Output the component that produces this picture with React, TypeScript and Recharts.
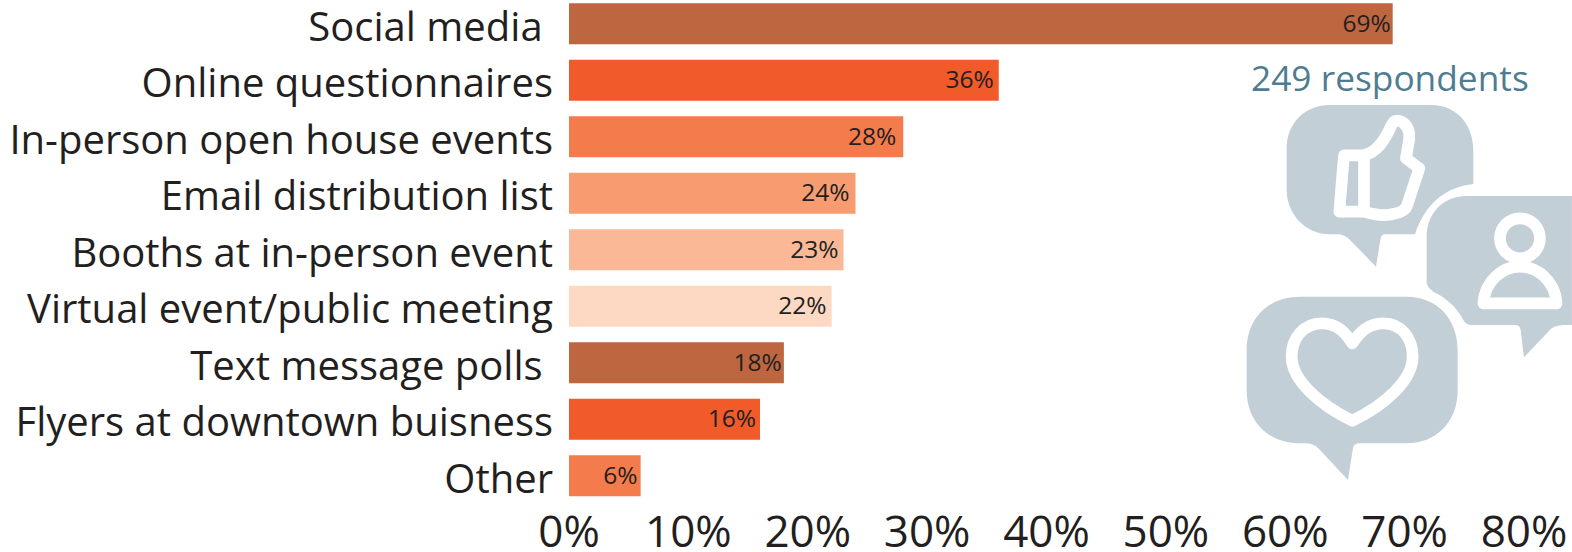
import React from "react";
import { BarChart, Bar, XAxis, YAxis, Cell, LabelList } from "recharts";

const categories = [
  "Social media ",
  "Online questionnaires",
  "In-person open house events",
  "Email distribution list",
  "Booths at in-person event",
  "Virtual event/public meeting",
  "Text message polls ",
  "Flyers at downtown buisness",
  "Other",
];
const shares = [69, 36, 28, 24, 23, 22, 18, 16, 6];
const barColors = ["#BD6640", "#F15A29", "#F47B4B", "#F79C70", "#FAB897", "#FDD9C4", "#BD6640", "#F15A29", "#F47B4B"];
const labelInsets = [2, 5, 7, 6, 5, 5, 2, 4, 3];
const xTicks = [0, 10, 20, 30, 40, 50, 60, 70, 80];
const respondents = "249 respondents";

const FONT = "'Open Sans', sans-serif";
const INK = "#231F20";
const ICON = "#C3CFD6";

const rows = categories.map((name, i) => ({ name, share: shares[i] }));

function CategoryTick({ x, y, payload }: any) {
  return (
    <text x={x - 8} y={y + 17} textAnchor="end" fontFamily={FONT} fontSize={40} fill={INK} style={{ whiteSpace: "pre" }}>
      {payload.value}
    </text>
  );
}

function ValueTick({ x, y, payload }: any) {
  return (
    <text x={x} y={y + 35} textAnchor="middle" fontFamily={FONT} fontSize={44} fill={INK}>
      {payload.value}%
    </text>
  );
}

function ShareLabel({ x, y, width, height, value, index }: any) {
  return (
    <text x={x + width - labelInsets[index]} y={y + height / 2 + 8} textAnchor="end" fontFamily={FONT} fontSize={24.5} fill={INK}>
      {value}%
    </text>
  );
}

// Speech bubbles with the thumb, person and heart glyphs
function BubbleIcons() {
  const line = { fill: "none", stroke: "#fff", strokeWidth: 35, strokeLinejoin: "round" as const };
  return (
    <svg width={1572} height={552} style={{ position: "absolute", left: 0, top: 0 }}>
      <text x={1251} y={91} fontFamily={FONT} fontSize={35.3} fill="#4F7C90">{respondents}</text>
      <g transform="translate(1220,50) scale(0.3333)">
        <path fill={ICON} d="M330 165H635C710 165 760 225 760 300V402C680 410 615 460 585 553H495Q483 553 481 570L468 650L390 570Q375 553 350 553H330C255 553 200 490 200 420V295C200 220 255 165 330 165Z" />
        <path {...line} d="M372 316H430C470 310 495 270 515 225Q525 205 545 215Q570 230 568 265L558 325L598 355L560 470Q550 490 500 495Q470 497 432 485H358ZM432 316V485" />
        <path fill={ICON} d="M740 438H1056V825H1030Q1000 825 985 845L912 922L902 840Q900 825 885 825H755Q738 825 730 810C710 770 680 745 640 725Q625 715 620 700V560C620 490 670 438 740 438Z" />
        <circle cx={900} cy={565} r={60} {...line} />
        <path {...line} d="M790 760C795 690 850 650 900 650C950 650 1005 690 1010 760Z" />
      </g>
      <g transform="translate(1220,280) scale(0.3333)">
        <path fill={ICON} d="M240 50H560C650 50 713 115 713 210V330C713 425 650 490 560 490H415Q400 490 398 510L384 600L295 505Q280 490 255 490H240C145 490 80 425 80 330V210C80 115 145 50 240 50Z" />
        <path {...line} d="M397 190C375 155 350 130 305 130C250 130 215 175 215 230C215 300 300 375 397 422C495 375 578 300 578 230C578 175 545 130 490 130C445 130 420 155 397 190Z" />
      </g>
    </svg>
  );
}

export default function App() {
  return (
    <div style={{ position: "absolute", left: 0, top: 0, width: 1572, height: 552, background: "#fff" }}>
      <BarChart width={1572} height={552} data={rows} layout="vertical" margin={{ top: -4.75, right: 48, bottom: 0.25, left: 0 }}>
        <XAxis type="number" domain={[0, 80]} ticks={xTicks} height={48} axisLine={false} tickLine={false} tick={<ValueTick />} interval={0} />
        <YAxis type="category" dataKey="name" width={569} axisLine={false} tickLine={false} tick={<CategoryTick />} interval={0} />
        <Bar dataKey="share" barSize={41} isAnimationActive={false}>
          {rows.map((r, i) => (
            <Cell key={r.name} fill={barColors[i]} />
          ))}
          <LabelList dataKey="share" content={<ShareLabel />} />
        </Bar>
      </BarChart>
      <BubbleIcons />
    </div>
  );
}
